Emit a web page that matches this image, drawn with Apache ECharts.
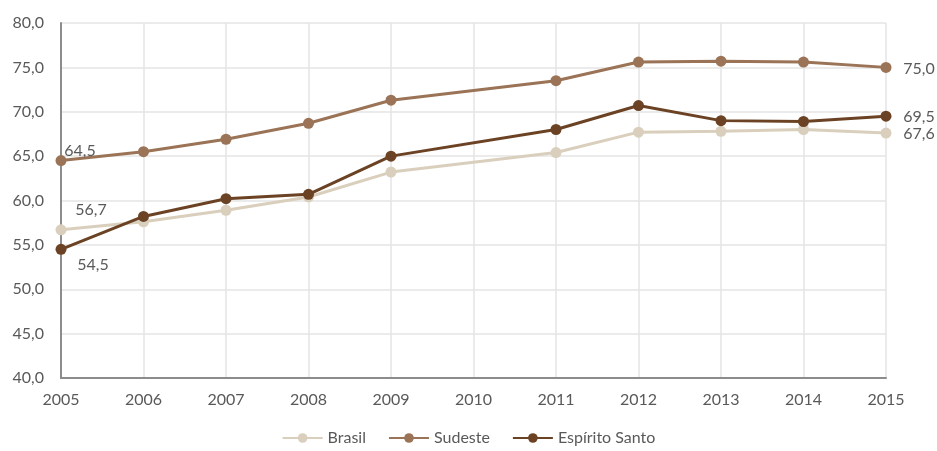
<!DOCTYPE html>
<html>
<head>
<meta charset="utf-8">
<script src="https://cdn.jsdelivr.net/npm/echarts@6/dist/echarts.min.js"></script>
<style>
  html, body { margin: 0; padding: 0; background: #ffffff; }
  #chart { width: 937px; height: 451px; }
</style>
</head>
<body>
<div id="chart"></div>
<script>
// Anos (2010 sem dado: a linha liga 2009 a 2011)
const years = ['2005', '2006', '2007', '2008', '2009', '2010', '2011', '2012', '2013', '2014', '2015'];
const brasil = [56.7, 57.6, 58.9, 60.4, 63.2, null, 65.4, 67.7, 67.8, 68.0, 67.6];
const sudeste = [64.5, 65.5, 66.9, 68.7, 71.3, null, 73.5, 75.6, 75.7, 75.6, 75.0];
const espiritoSanto = [54.5, 58.2, 60.2, 60.7, 65.0, null, 68.0, 70.7, 69.0, 68.9, 69.5];

const seriesNames = ['Brasil', 'Sudeste', 'Espírito Santo'];
const colors = ['#d9cfbc', '#9b7356', '#6b4324'];

// Rótulos de valor exibidos: índice do ponto e deslocamento do texto
const labelSpots = {
  'Brasil': [[0, [30, -20]], [10, [33, 1]]],
  'Sudeste': [[0, [19, -10]], [10, [33, 1]]],
  'Espírito Santo': [[0, [32, 16]], [10, [33, 1]]]
};

const fmt = v => v.toFixed(1).replace('.', ',');
const textColor = '#595959';
const fontFamily = 'Lato, "Open Sans", sans-serif';
const fontSize = 16;

function buildData(name, values) {
  const spots = labelSpots[name];
  return values.map((v, i) => {
    const spot = spots.find(s => s[0] === i);
    if (!spot || v === null) return v;
    return {
      value: v,
      label: {
        show: true,
        position: 'inside',
        offset: spot[1],
        formatter: p => fmt(p.value),
        color: textColor,
        fontSize: fontSize,
        fontFamily: fontFamily
      }
    };
  });
}

const valuesList = [brasil, sudeste, espiritoSanto];

const chart = echarts.init(document.getElementById('chart'), null, { renderer: 'canvas' });
chart.setOption({
  animation: false,
  color: colors,
  grid: { left: 61, right: 51, top: 23, bottom: 73, containLabel: false },
  legend: {
    bottom: 0,
    left: 'center',
    itemWidth: 40,
    itemHeight: 12,
    itemGap: 22,
    textStyle: { color: textColor, fontSize: fontSize, fontFamily: fontFamily },
    data: seriesNames
  },
  xAxis: {
    type: 'category',
    data: years,
    boundaryGap: false,
    axisLine: { show: true, lineStyle: { color: '#8c8c8c', width: 2 } },
    axisTick: { show: false },
    splitLine: { show: true, lineStyle: { color: '#e5e5e5', width: 1.5 } },
    axisLabel: { color: textColor, fontSize: fontSize, fontFamily: fontFamily, margin: 14 }
  },
  yAxis: {
    type: 'value',
    min: 40,
    max: 80,
    interval: 5,
    axisLine: { show: true, lineStyle: { color: '#8c8c8c', width: 2 } },
    axisTick: { show: false },
    splitLine: { show: true, lineStyle: { color: '#e5e5e5', width: 1.5 } },
    axisLabel: { color: textColor, fontSize: fontSize, fontFamily: fontFamily, margin: 17, formatter: v => fmt(v) }
  },
  series: seriesNames.map((name, k) => ({
    name: name,
    type: 'line',
    data: buildData(name, valuesList[k]),
    connectNulls: true,
    symbol: 'circle',
    symbolSize: 11,
    lineStyle: { width: 3, color: colors[k] },
    itemStyle: { color: colors[k] },
    emphasis: { disabled: true },
    z: 2 + k
  }))
});
</script>
</body>
</html>
